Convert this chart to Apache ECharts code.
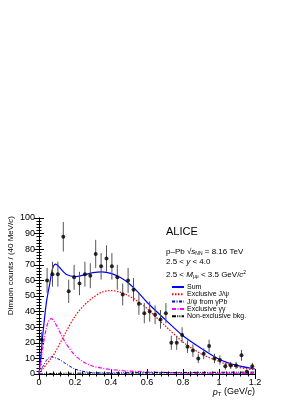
<!DOCTYPE html>
<html>
<head>
<meta charset="utf-8">
<script src="https://cdn.jsdelivr.net/npm/echarts@6/dist/echarts.min.js"></script>
<style>html,body{margin:0;padding:0;background:#fff;}#c{width:293px;height:401px;}</style>
</head>
<body>
<div id="c"></div>
<script>
// data points (pT bin centres, counts, errors)
const ptPoints = [0.015,0.045,0.075,0.105,0.135,0.165,0.195,0.225,0.255,0.285,0.315,0.345,0.375,0.405,0.435,0.465,0.495,0.525,0.555,0.585,0.615,0.645,0.675,0.705,0.735,0.765,0.795,0.825,0.855,0.885,0.915,0.945,0.975,1.005,1.035,1.065,1.095,1.125,1.155,1.185];
const counts = [22,60,64,64,88,53,62,58,64,63,77,69,74,69,62,51,60,54,45,39,40,38,35,39,20,20,25,17.5,15,10,13,18,10,9,5,5.5,5.5,12,1.5,5];
const countErr = [5,8,8,8,9.5,7.5,8,7.5,8,8,9,8.5,8.5,8.5,8,7,8,7.5,7,6.5,6.5,6,6,6.5,4.5,4.5,5,4,4,3,3.5,4,3,3,2.2,2.3,2.3,3.5,1.2,2.2];

// fit curves
const curveX = [0,0.01,0.02,0.03,0.04,0.05,0.06,0.07,0.08,0.09,0.1,0.12,0.15,0.2,0.25,0.3,0.35,0.4,0.45,0.5,0.55,0.6,0.7,0.8,0.9,1.0,1.1,1.2];
const sumCurve = [0,11,24,35,45,52,58,65,69,70.4,70,67.5,64,62.5,63.5,65,65.5,64.5,62,58,52.5,46,35,24.5,16.5,9.5,5.5,3.2];
const exclJpsi = [0,1.5,3,4.5,6,7.5,9,10.5,12,14,16,20.5,27,37,44,49,52.5,53.5,52.5,50,46.5,42,31,20.5,13,8,4.5,2.6];
const jpsiGammaPb = [0,2.5,4.5,6.5,8.5,10,10.7,11,10.8,10.4,10,8.8,6.5,3.2,1.6,0.8,0.5,0.3,0.2,0.15,0.1,0.1,0.05,0,0,0,0,0];
const exclGG = [0,8,16,23,29,33,35,35.5,34.5,32.5,30.5,26,19.5,12,7.5,5,3.7,2.9,2.3,1.9,1.6,1.3,1.0,0.8,0.6,0.5,0.45,0.4];
const nonExclBkg = [0,0.05,0.1,0.15,0.2,0.25,0.3,0.3,0.35,0.35,0.4,0.4,0.45,0.5,0.55,0.6,0.65,0.7,0.75,0.8,0.85,0.9,0.95,1.0,1.05,1.1,1.15,1.2];

const seriesNames = ['Sum','Exclusive J/\u03c8','J/\u03c8 from \u03b3Pb','Exclusive \u03b3\u03b3','Non-exclusive bkg.'];
const xTicks = {min:0,max:1.2,interval:0.2};
const yTicks = {min:0,max:100,interval:10};

const font = 'Liberation Sans, Arial, Helvetica, sans-serif';
const chart = echarts.init(document.getElementById('c'), null, {renderer:'canvas'});

function zip(xs, ys){ return xs.map((x,i)=>[x,ys[i]]); }

const axisCommon = {
  axisLine:{show:true,lineStyle:{color:'#000',width:1}},
  axisTick:{show:true,inside:true,length:5,lineStyle:{color:'#000',width:1}},
  minorTick:{show:true,splitNumber:5,length:2.5,lineStyle:{color:'#000',width:1}},
  splitLine:{show:false}
};

const curveSeries = [
  {name:seriesNames[0], data:sumCurve, color:'#0000ff', type:'solid', width:1.2},
  {name:seriesNames[1], data:exclJpsi, color:'#ff0000', type:[1.5,1.5], width:1.2},
  {name:seriesNames[2], data:jpsiGammaPb, color:'#0000ff', type:[3,1.5,1,1.5], width:1},
  {name:seriesNames[3], data:exclGG, color:'#ff00ff', type:[4,1.5,1,1.5], width:1.2},
  {name:seriesNames[4], data:nonExclBkg, color:'#000000', type:[4,1.2,1,1.2,1,1.2], width:1}
].map(c=>({
  name:c.name, type:'line', xAxisIndex:0, yAxisIndex:0,
  data: zip(curveX, c.data), smooth:0.3, symbol:'none', showSymbol:false,
  lineStyle:{color:c.color, width:c.width, type:c.type},
  itemStyle:{color:c.color},
  z:3, silent:true, animation:false
}));

const option = {
  animation:false,
  grid:{left:39, top:218, width:216, height:156, containLabel:false},
  xAxis:[
    Object.assign({type:'value', position:'bottom', min:xTicks.min, max:xTicks.max, interval:xTicks.interval,
      axisLabel:{show:true, color:'#000', fontFamily:font, fontSize:9, margin:4}}, axisCommon),
    Object.assign({type:'value', position:'top', min:xTicks.min, max:xTicks.max, interval:xTicks.interval,
      axisLabel:{show:false}}, axisCommon)
  ],
  yAxis:[
    Object.assign({type:'value', position:'left', min:yTicks.min, max:yTicks.max, interval:yTicks.interval,
      axisLabel:{show:true, color:'#000', fontFamily:font, fontSize:9, margin:4}}, axisCommon),
    Object.assign({type:'value', position:'right', min:yTicks.min, max:yTicks.max, interval:yTicks.interval,
      axisLabel:{show:false}}, axisCommon)
  ],
  legend:{
    data: seriesNames.map(n=>({name:n})),
    orient:'vertical', left:171, top:283.5, itemWidth:12, itemHeight:5, itemGap:0.3,
    padding:0, selectedMode:false,
    itemStyle:{color:'rgba(0,0,0,0)', borderWidth:0, opacity:0},
    textStyle:{fontFamily:font, fontSize:7, lineHeight:6, color:'#000', padding:[0,0,0,-2]}
  },
  graphic:[
    {type:'text', left:166, top:226, style:{text:'ALICE', font:'11px '+font, fill:'#000'}},
    {type:'text', left:166, top:248, style:{
      text:'{a|p\u2013Pb \u221a}{i|s}{s|NN}{a| = 8.16 TeV}',
      rich:{a:{fontFamily:font,fontSize:8,fill:'#000'}, i:{fontFamily:font,fontSize:8,fontStyle:'italic',fill:'#000'}, s:{fontFamily:font,fontSize:5,fill:'#000',padding:[4,0,0,0]}}}},
    {type:'text', left:166, top:258, style:{
      text:'{a|2.5 < }{i|y}{a| < 4.0}',
      rich:{a:{fontFamily:font,fontSize:8,fill:'#000'}, i:{fontFamily:font,fontSize:8,fontStyle:'italic',fill:'#000'}}}},
    {type:'text', left:166, top:270, style:{
      text:'{a|2.5 < }{i|M}{s|\u03bc\u03bc}{a| < 3.5 GeV/}{i|c}{p|2}',
      rich:{a:{fontFamily:font,fontSize:8,fill:'#000'}, i:{fontFamily:font,fontSize:8,fontStyle:'italic',fill:'#000'},
        s:{fontFamily:font,fontSize:5,fill:'#000',padding:[4,0,0,0]}, p:{fontFamily:font,fontSize:5,fill:'#000',padding:[0,0,5,0]}}}},
    {type:'text', x:11, y:216, rotation:Math.PI/2, style:{
      text:'{a|Dimuon counts / (40 MeV/}{i|c}{a|)}', align:'right', verticalAlign:'middle',
      rich:{a:{fontFamily:font,fontSize:8,fill:'#000'}, i:{fontFamily:font,fontSize:8,fontStyle:'italic',fill:'#000'}}}},
    {type:'text', x:255, y:392, style:{
      text:'{i|p}{s|T}{a| (GeV/}{i|c}{a|)}', align:'right', verticalAlign:'middle',
      rich:{a:{fontFamily:font,fontSize:9,fill:'#000'}, i:{fontFamily:font,fontSize:9,fontStyle:'italic',fill:'#000'}, s:{fontFamily:font,fontSize:6,fill:'#000',padding:[5,0,0,0]}}}}
  ],
  series:[
    ...curveSeries,
    {
      type:'custom', name:'errors', xAxisIndex:0, yAxisIndex:0, silent:true, z:4,
      data: ptPoints.map((x,i)=>[x, counts[i], countErr[i]]),
      renderItem:function(params, api){
        const x = api.value(0), y = api.value(1), e = api.value(2);
        const lo = api.coord([x, Math.max(0, y-e)]);
        const hi = api.coord([x, y+e]);
        return {type:'line', shape:{x1:lo[0], y1:lo[1], x2:hi[0], y2:hi[1]},
          style:{stroke:'#555', lineWidth:1}};
      }
    },
    {
      type:'scatter', name:'data', xAxisIndex:0, yAxisIndex:0, silent:true, z:5,
      data: zip(ptPoints, counts), symbol:'circle', symbolSize:4,
      itemStyle:{color:'#000'}
    }
  ]
};
chart.setOption(option);
</script>
</body>
</html>
